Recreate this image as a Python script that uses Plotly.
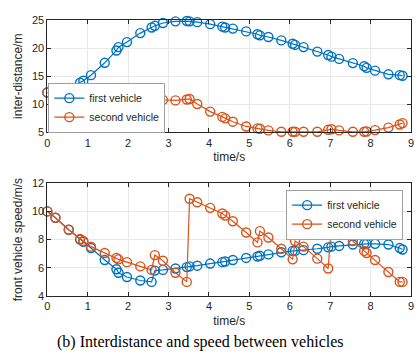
import plotly.graph_objects as go

t = [0, 0.2, 0.53, 0.81, 0.89, 1.08, 1.42, 1.71, 1.76, 1.97, 2.30, 2.58, 2.66, 2.86,
     3.17, 3.45, 3.52, 3.71, 4.03, 4.33, 4.40, 4.59, 4.92, 5.20, 5.26, 5.47, 5.79,
     6.07, 6.13, 6.34, 6.68, 6.95, 7.03, 7.22, 7.56, 7.84, 7.90, 8.11, 8.44, 8.72, 8.79]

dist_first = [12.1, 12.1, 12.9, 13.85, 14.2, 15.2, 17.4, 19.6, 20.2, 21.1, 22.7, 23.7, 24.0, 24.5,
              24.8, 24.85, 24.8, 24.65, 24.3, 23.85, 23.7, 23.5, 23.0, 22.5, 22.3, 22.0, 21.4,
              20.8, 20.6, 20.2, 19.4, 18.8, 18.5, 18.1, 17.35, 16.8, 16.5, 16.0, 15.35, 15.2, 15.1]
dist_second = [12.1, 12.1, 12.1, 12.05, 12.05, 12.0, 12.0, 11.9, 11.85, 11.6, 11.3, 11.1, 11.05, 10.8,
               10.7, 10.85, 10.95, 10.05, 8.7, 7.75, 7.5, 6.9, 6.05, 5.7, 5.65, 5.35, 5.1,
               5.1, 5.1, 5.1, 5.1, 5.45, 5.55, 5.35, 5.1, 5.1, 5.15, 5.4, 5.85, 6.4, 6.65]

speed_first = [10.0, 9.55, 8.7, 8.0, 7.85, 7.4, 6.55, 5.9, 5.65, 5.35, 5.1, 5.0, 5.8, 5.85,
               5.95, 6.05, 6.1, 6.15, 6.3, 6.4, 6.45, 6.55, 6.7, 6.8, 6.85, 6.95, 7.1,
               7.2, 7.2, 7.25, 7.35, 7.45, 7.5, 7.55, 7.65, 7.7, 7.7, 7.7, 7.65, 7.4, 7.3]
speed_second = [10.0, 9.55, 8.7, 8.05, 7.9, 7.5, 7.05, 6.7, 6.6, 6.4, 6.1, 5.85, 6.9, 6.5,
                5.65, 5.0, 10.9, 10.65, 10.25, 9.85, 9.7, 9.3, 8.5, 7.8, 8.6, 8.15, 7.35,
                6.6, 7.9, 7.5, 6.65, 5.95, 9.2, 8.75, 7.9, 7.2, 7.05, 6.55, 5.7, 5.0, 5.0]

x_ticks = [0, 1, 2, 3, 4, 5, 6, 7, 8, 9]
dist_ticks = [5, 10, 15, 20, 25]
speed_ticks = [4, 6, 8, 10, 12]

names = ["first vehicle", "second vehicle"]
colors = ["#0072BD", "#D95319"]
caption = "(b) Interdistance and speed between vehicles"

W, H = 417, 360
fig = go.Figure()

def add(x, y, name, color, xa, ya, legend):
    fig.add_trace(go.Scatter(
        x=x, y=y, name=name, mode="lines+markers", xaxis=xa, yaxis=ya, legend=legend,
        line=dict(color=color, width=1.2),
        marker=dict(symbol="circle-open", size=9, color=color, line=dict(width=1.4)),
        cliponaxis=False,
    ))

add(t, dist_first, names[0], colors[0], "x", "y", "legend")
add(t, dist_second, names[1], colors[1], "x", "y", "legend")
add(t, speed_first, names[0], colors[0], "x2", "y2", "legend2")
add(t, speed_second, names[1], colors[1], "x2", "y2", "legend2")

font = dict(family="Liberation Sans, Arial, sans-serif", size=11, color="#262626")
legfont = dict(family="Liberation Sans, Arial, sans-serif", size=10.5, color="#262626")
axis_common = dict(
    showline=True, mirror="ticks", linecolor="#262626", linewidth=1,
    ticks="inside", ticklen=4, tickcolor="#262626",
    showgrid=True, gridcolor="#e8e8e8", gridwidth=1, zeroline=False,
    tickfont=font, ticklabeloverflow="allow",
)
xdom = [45 / W, 414 / W]
fig.update_layout(
    width=W, height=H, margin=dict(l=0, r=0, t=0, b=0),
    paper_bgcolor="white", plot_bgcolor="white", font=font,
    xaxis=dict(domain=xdom, range=[0, 9], tickvals=x_ticks, anchor="y",
               title=dict(text="time/s", font=dict(size=12), standoff=5), **axis_common),
    yaxis=dict(domain=[1 - 130.7 / H, 1 - 14.7 / H], range=[5, 25], tickvals=dist_ticks, anchor="x",
               title=dict(text="inter-distance/m", font=dict(size=12), standoff=6), **axis_common),
    xaxis2=dict(domain=xdom, range=[0, 9], tickvals=x_ticks, anchor="y2",
                title=dict(text="time/s", font=dict(size=12), standoff=5), **axis_common),
    yaxis2=dict(domain=[1 - 300 / H, 1 - 183.3 / H], range=[4, 12], tickvals=speed_ticks, anchor="x2",
                title=dict(text="front vehicle speed/m/s", font=dict(size=12), standoff=6), **axis_common),
    legend=dict(x=46 / W, y=1 - 131 / H, xanchor="left", yanchor="bottom",
                bgcolor="white", bordercolor="#a0a0a0", borderwidth=1,
                font=legfont, tracegroupgap=0, itemwidth=30),
    legend2=dict(x=406 / W, y=1 - 190 / H, xanchor="right", yanchor="top",
                 bgcolor="white", bordercolor="#a0a0a0", borderwidth=1,
                 font=legfont, tracegroupgap=0, itemwidth=30),
    annotations=[dict(text=caption, xref="paper", yref="paper", x=200 / W, y=1 - 348 / H,
                      xanchor="center", yanchor="middle", showarrow=False,
                      font=dict(family="Liberation Serif, Times New Roman, serif", size=16, color="black"))],
)

fig.write_html("out.html")
